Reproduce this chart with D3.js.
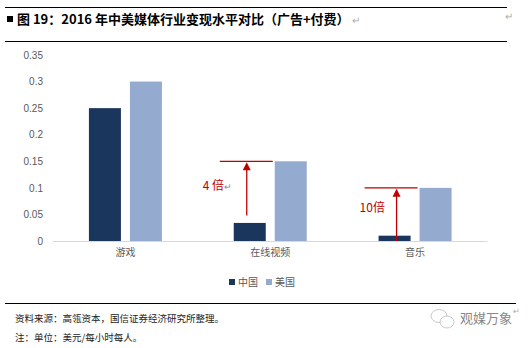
<!DOCTYPE html>
<html><head><meta charset="utf-8">
<script src="https://cdn.jsdelivr.net/npm/d3@7"></script>
<style>body{margin:0;background:#fff}svg{display:block}</style>
</head><body>
<script>
const categories = ["游戏", "在线视频", "音乐"];
const seriesNames = ["中国", "美国"];
const chinaValues = [0.25, 0.034, 0.01];
const usValues = [0.30, 0.15, 0.10];
const yTicks = [0, 0.05, 0.1, 0.15, 0.2, 0.25, 0.3, 0.35];
const annotations = [
  {category: "在线视频", top: 0.15, label: "4 倍", mark: true, arrowFrom: 0.048, arrowDx: 13, textX: -31, textY: 0.096},
  {category: "音乐", top: 0.10, label: "10倍", mark: false, arrowFrom: 0.0, arrowDx: 18, textX: -19, textY: 0.054}
];
const colors = ["#1b365d", "#95aacf"];
const W = 532, H = 348;
const font = "'Noto Sans CJK SC', sans-serif";

const svg = d3.select("body").append("svg").attr("width", W).attr("height", H);

// title block
svg.append("line").attr("x1", 5).attr("x2", 507).attr("y1", 7.5).attr("y2", 7.5).attr("stroke", "#000").attr("stroke-width", 1);
svg.append("line").attr("x1", 5).attr("x2", 507).attr("y1", 41.5).attr("y2", 41.5).attr("stroke", "#000").attr("stroke-width", 1);
svg.append("rect").attr("x", 7).attr("y", 16).attr("width", 6).attr("height", 6).attr("fill", "#000");
svg.append("text").attr("x", 17).attr("y", 24).attr("font-family", font).attr("font-weight", "bold")
  .attr("font-size", 13).attr("fill", "#000").attr("xml:space", "preserve").text("图 19：2016 年中美媒体行业变现水平对比（广告+付费）");
svg.append("text").attr("x", 352).attr("y", 24).attr("font-family", font).attr("font-size", 10).attr("fill", "#aaa").text("↵");
svg.append("text").attr("x", 505).attr("y", 20).attr("font-family", font).attr("font-size", 10).attr("fill", "#aaa").text("↵");

// scales
const y = d3.scaleLinear().domain([0, 0.35]).range([241, 55]);
const x0 = d3.scaleBand().domain(categories).range([53, 487.5]).padding(0);
const x1 = d3.scaleBand().domain(seriesNames).range([0, x0.bandwidth()]).paddingInner(0.2195).paddingOuter(0.876);

// y axis labels
const yAxis = d3.axisLeft(y).tickValues(yTicks).tickSize(0).tickPadding(10).tickFormat(d => d3.format("")(+d.toFixed(2)));
const ga = svg.append("g").attr("transform", "translate(53,0)").call(yAxis);
ga.select(".domain").remove();
ga.selectAll("text").attr("font-family", "'Liberation Sans', Arial, sans-serif").attr("font-size", 10).attr("fill", "#595959");

// baseline
svg.append("line").attr("x1", 53).attr("x2", 487.5).attr("y1", y(0) + 0.5).attr("y2", y(0) + 0.5).attr("stroke", "#d9d9d9").attr("stroke-width", 1);

// bars
const rows = categories.map((c, i) => ({cat: c, vals: [chinaValues[i], usValues[i]]}));
const g = svg.append("g");
rows.forEach(r => {
  r.vals.forEach((v, j) => {
    g.append("rect").attr("x", x0(r.cat) + x1(seriesNames[j])).attr("y", y(v))
      .attr("width", x1.bandwidth()).attr("height", y(0) - y(v)).attr("fill", colors[j]);
  });
});

// x axis labels
const xAxis = d3.axisBottom(x0).tickSize(0).tickPadding(8);
const gx = svg.append("g").attr("transform", `translate(0,${y(0)})`).call(xAxis);
gx.select(".domain").remove();
gx.selectAll("text").attr("font-family", font).attr("font-size", 10).attr("fill", "#595959");

// annotations
const red = "#c00000";
annotations.forEach(a => {
  const cx = x0(a.category) + x1("中国");
  const ux = x0(a.category) + x1("美国");
  svg.append("line").attr("x1", cx - 14).attr("x2", ux - 2).attr("y1", y(a.top)).attr("y2", y(a.top)).attr("stroke", red).attr("stroke-width", 1.3);
  const ax = cx + a.arrowDx;
  svg.append("line").attr("x1", ax).attr("x2", ax).attr("y1", y(a.arrowFrom)).attr("y2", y(a.top) + 6).attr("stroke", red).attr("stroke-width", 1.3);
  svg.append("path").attr("d", `M${ax},${y(a.top) + 1}L${ax - 4},${y(a.top) + 9}L${ax + 4},${y(a.top) + 9}Z`).attr("fill", red);
  const t = svg.append("text").attr("x", cx + a.textX).attr("y", y(a.textY)).attr("font-family", "'Liberation Sans', Arial, sans-serif")
    .attr("font-size", 12).attr("fill", red).attr("xml:space", "preserve");
  t.append("tspan").attr("font-family", font).text(a.label);
  if (a.mark) t.append("tspan").attr("fill", "#888").attr("font-size", 9).text("↵");
});

// legend
const lg = svg.append("g").attr("transform", "translate(229,279)");
seriesNames.forEach((s, i) => {
  const xo = i * 37;
  lg.append("rect").attr("x", xo).attr("y", 0).attr("width", 6).attr("height", 6).attr("fill", colors[i]);
  lg.append("text").attr("x", xo + 9).attr("y", 7).attr("font-family", font).attr("font-size", 10).attr("fill", "#595959").text(s);
});

// footer
svg.append("line").attr("x1", 5).attr("x2", 516).attr("y1", 303.5).attr("y2", 303.5).attr("stroke", "#000").attr("stroke-width", 1);
svg.append("text").attr("x", 15).attr("y", 322).attr("font-family", font).attr("font-size", 9.5).attr("fill", "#222").text("资料来源：高瓴资本，国信证券经济研究所整理。");
svg.append("text").attr("x", 15).attr("y", 341).attr("font-family", font).attr("font-size", 9.5).attr("fill", "#222").text("注：单位：美元/每小时每人。");

// watermark
const wm = svg.append("g").attr("transform", "translate(430,318)");
wm.append("ellipse").attr("cx", 9).attr("cy", -2).attr("rx", 8).attr("ry", 6.5).attr("fill", "none").attr("stroke", "#bbb").attr("stroke-width", 0.8);
wm.append("ellipse").attr("cx", 17).attr("cy", 4).attr("rx", 7).attr("ry", 6).attr("fill", "#fff").attr("stroke", "#bbb").attr("stroke-width", 0.8);
svg.append("text").attr("x", 460).attr("y", 323).attr("font-family", font).attr("font-size", 13).attr("fill", "#888").text("观媒万象");
svg.append("text").attr("x", 513).attr("y", 314).attr("font-family", font).attr("font-size", 8).attr("fill", "#aaa").text("↵");
</script>
</body></html>
